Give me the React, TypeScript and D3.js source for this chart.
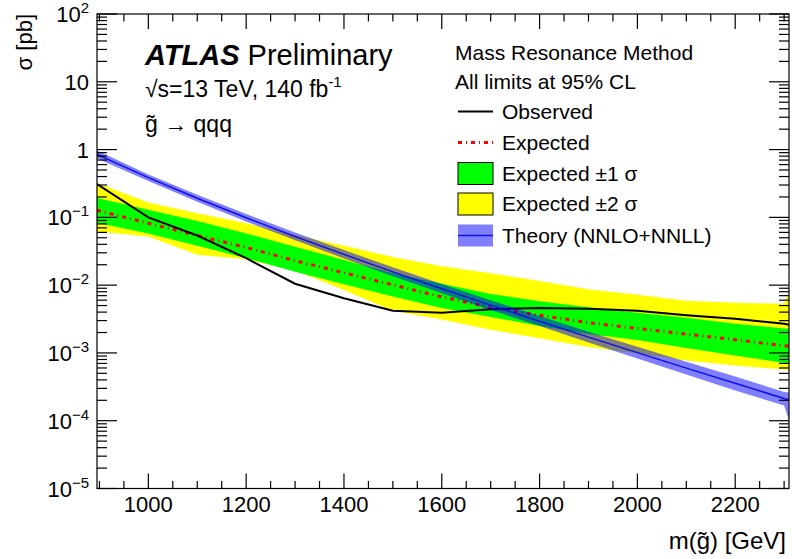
import React, { useEffect, useRef } from "react";
import * as d3 from "d3";

// gluino masses [GeV] where the curves are read
const masses = [895, 1000, 1100, 1200, 1300, 1400, 1500, 1600, 1700, 1800, 1900, 2000, 2100, 2200, 2300, 2310];

// cross-section limits [pb]
const observed = [0.31, 0.1, 0.054, 0.025, 0.0105, 0.0064, 0.0042, 0.0039, 0.0044, 0.0046, 0.0045, 0.0042, 0.0036, 0.0032, 0.0027, 0.0026];
const expected = [0.127, 0.082, 0.054, 0.036, 0.023, 0.0152, 0.0101, 0.0067, 0.0047, 0.0036, 0.0028, 0.0023, 0.0019, 0.00156, 0.00128, 0.00126];
const exp1Up = [0.193, 0.13, 0.088, 0.058, 0.037, 0.0235, 0.015, 0.0105, 0.0074, 0.0058, 0.0047, 0.0039, 0.0033, 0.0027, 0.0023, 0.0023];
const exp1Down = [0.083, 0.058, 0.038, 0.025, 0.0158, 0.0103, 0.0068, 0.0046, 0.0034, 0.0025, 0.0019, 0.00155, 0.00118, 0.00092, 0.00071, 0.0007];
const exp2Up = [0.32, 0.165, 0.115, 0.082, 0.055, 0.038, 0.026, 0.019, 0.015, 0.0115, 0.0087, 0.0072, 0.0059, 0.0055, 0.0053, 0.008];
const exp2Down = [0.062, 0.052, 0.028, 0.024, 0.0165, 0.0085, 0.0042, 0.0031, 0.0022, 0.00165, 0.00122, 0.00098, 0.00077, 0.00065, 0.00057, 0.00055];

// NNLO+NNLL gluino pair cross-section [pb]
const theory = [0.85, 0.385, 0.191, 0.0985, 0.0522, 0.0284, 0.0157, 0.00887, 0.00507, 0.00293, 0.00171, 0.00101, 0.000597, 0.000356, 0.000213, 0.000204];
const theoryUp = [0.97, 0.43, 0.215, 0.112, 0.06, 0.033, 0.0183, 0.0104, 0.006, 0.0035, 0.00206, 0.00123, 0.00074, 0.00045, 0.000265, 0.00026];
const theoryDown = [0.74, 0.345, 0.17, 0.087, 0.046, 0.0248, 0.0135, 0.0076, 0.0043, 0.0025, 0.00143, 0.00083, 0.00048, 0.00028, 0.000168, 0.000102];

const xTicks = [1000, 1200, 1400, 1600, 1800, 2000, 2200];
const yExponents = [2, 1, 0, -1, -2, -3, -4, -5];

const legendEntries = ["Observed", "Expected", "Expected ±1 σ", "Expected ±2 σ", "Theory (NNLO+NNLL)"];

const FONT = "'Liberation Sans', Arial, Helvetica, sans-serif";

export default function App() {
  const svgRef = useRef<SVGSVGElement>(null);

  useEffect(() => {
    const svg = d3.select(svgRef.current);
    svg.selectAll("*").remove();

    const W = 792;
    const H = 559;
    const left = 97, right = 789, top = 14, bottom = 488.5;

    const x = d3.scaleLinear().domain([895, 2310]).range([left, right]);
    const y = d3.scaleLog().domain([1e-5, 1e2]).range([bottom, top]);

    svg.append("rect").attr("width", W).attr("height", H).attr("fill", "white");

    svg
      .append("defs")
      .append("clipPath")
      .attr("id", "plot-clip")
      .append("rect")
      .attr("x", left)
      .attr("y", top)
      .attr("width", right - left)
      .attr("height", bottom - top);

    const plot = svg.append("g").attr("clip-path", "url(#plot-clip)");
    const idx = masses.map((_, i) => i);

    const band = (hi: number[], lo: number[]) =>
      d3
        .area<number>()
        .x((i) => x(masses[i]))
        .y0((i) => y(lo[i]))
        .y1((i) => y(hi[i]))(idx);
    const line = (vals: number[]) =>
      d3
        .line<number>()
        .x((i) => x(masses[i]))
        .y((i) => y(vals[i]))(idx);

    plot.append("path").attr("d", band(exp2Up, exp2Down)).attr("fill", "#ffff00");
    plot.append("path").attr("d", band(exp1Up, exp1Down)).attr("fill", "#00ff00");
    plot
      .append("path")
      .attr("d", line(expected))
      .attr("fill", "none")
      .attr("stroke", "#ff0000")
      .attr("stroke-width", 3)
      .attr("stroke-dasharray", "4 4 1 4");
    plot
      .append("path")
      .attr("d", line(observed))
      .attr("fill", "none")
      .attr("stroke", "black")
      .attr("stroke-width", 2);
    plot
      .append("path")
      .attr("d", band(theoryUp, theoryDown))
      .attr("fill", "#0000ff")
      .attr("fill-opacity", 0.5);
    plot
      .append("path")
      .attr("d", line(theory))
      .attr("fill", "none")
      .attr("stroke", "#1010e0")
      .attr("stroke-width", 1.5);

    // frame
    svg
      .append("rect")
      .attr("x", left)
      .attr("y", top)
      .attr("width", right - left)
      .attr("height", bottom - top)
      .attr("fill", "none")
      .attr("stroke", "black")
      .attr("stroke-width", 1.2);

    // x ticks (major every 200, minor every 50), bottom and top
    const ticks = svg.append("g").attr("stroke", "black").attr("stroke-width", 1.2);
    d3.range(900, 2311, 50).forEach((m) => {
      const len = m % 200 === 0 ? 15 : 7.5;
      ticks.append("line").attr("x1", x(m)).attr("x2", x(m)).attr("y1", bottom).attr("y2", bottom - len);
      ticks.append("line").attr("x1", x(m)).attr("x2", x(m)).attr("y1", top).attr("y2", top + len);
    });

    // y ticks (log), left and right
    yExponents.forEach((e) => {
      for (let k = 1; k <= 9; k++) {
        const v = k * Math.pow(10, e);
        if (v > 100 * 1.0001) continue;
        const len = k === 1 ? 20 : 10;
        const yy = y(v);
        ticks.append("line").attr("x1", left).attr("x2", left + len).attr("y1", yy).attr("y2", yy);
        ticks.append("line").attr("x1", right).attr("x2", right - len).attr("y1", yy).attr("y2", yy);
      }
    });

    // x tick labels
    svg
      .append("g")
      .selectAll("text")
      .data(xTicks)
      .enter()
      .append("text")
      .attr("x", (d) => x(d))
      .attr("y", 512)
      .attr("text-anchor", "middle")
      .style("font-family", FONT)
      .style("font-size", "22px")
      .text((d) => d);

    // y tick labels
    yExponents.forEach((e) => {
      const t = svg
        .append("text")
        .attr("x", 89)
        .attr("y", y(Math.pow(10, e)) + 8)
        .attr("text-anchor", "end")
        .style("font-family", FONT)
        .style("font-size", "22px");
      if (e === 0) t.text("1");
      else if (e === 1) t.text("10");
      else {
        t.append("tspan").text("10");
        t.append("tspan")
          .attr("dy", -9)
          .style("font-size", "15px")
          .text(e < 0 ? "\u2212" + -e : String(e));
      }
    });

    // axis titles
    svg
      .append("text")
      .attr("x", 786)
      .attr("y", 549)
      .attr("text-anchor", "end")
      .style("font-family", FONT)
      .style("font-size", "24px")
      .text("m(g\u0303) [GeV]");

    svg
      .append("text")
      .attr("transform", "translate(32,14) rotate(-90)")
      .attr("text-anchor", "end")
      .style("font-family", FONT)
      .style("font-size", "22px")
      .text("σ [pb]");

    // ATLAS label
    const atlas = svg
      .append("text")
      .attr("x", 145)
      .attr("y", 65)
      .style("font-family", FONT)
      .style("font-size", "29px");
    atlas.append("tspan").style("font-weight", "bold").style("font-style", "italic").text("ATLAS");
    atlas.append("tspan").text(" Preliminary");

    const energy = svg
      .append("text")
      .attr("x", 145)
      .attr("y", 97)
      .style("font-family", FONT)
      .style("font-size", "23px");
    energy.append("tspan").text("√s=13 TeV, 140 fb");
    energy.append("tspan").attr("dy", -10).style("font-size", "15px").text("-1");

    svg
      .append("text")
      .attr("x", 145)
      .attr("y", 132)
      .style("font-family", FONT)
      .style("font-size", "23px")
      .text("g\u0303 → qqq");

    // legend
    const lg = svg.append("g").style("font-family", FONT).style("font-size", "21px");
    lg.append("text").attr("x", 455).attr("y", 60).text("Mass Resonance Method");
    lg.append("text").attr("x", 455).attr("y", 89).text("All limits at 95% CL");

    const rowY = [111.5, 142.5, 173.5, 204, 235.5];
    legendEntries.forEach((label, i) => {
      lg.append("text").attr("x", 502).attr("y", rowY[i] + 7).text(label);
    });
    lg.append("line")
      .attr("x1", 458).attr("x2", 493).attr("y1", rowY[0]).attr("y2", rowY[0])
      .attr("stroke", "black").attr("stroke-width", 2);
    lg.append("line")
      .attr("x1", 458).attr("x2", 493).attr("y1", rowY[1]).attr("y2", rowY[1])
      .attr("stroke", "#ff0000").attr("stroke-width", 3).attr("stroke-dasharray", "4 4 1 4");
    lg.append("rect")
      .attr("x", 458).attr("y", rowY[2] - 11).attr("width", 35).attr("height", 22)
      .attr("fill", "#00ff00").attr("stroke", "black").attr("stroke-width", 1);
    lg.append("rect")
      .attr("x", 458).attr("y", rowY[3] - 11).attr("width", 35).attr("height", 22)
      .attr("fill", "#ffff00").attr("stroke", "black").attr("stroke-width", 1);
    lg.append("rect")
      .attr("x", 458).attr("y", rowY[4] - 11).attr("width", 35).attr("height", 22)
      .attr("fill", "#0000ff").attr("fill-opacity", 0.5);
    lg.append("line")
      .attr("x1", 458).attr("x2", 493).attr("y1", rowY[4]).attr("y2", rowY[4])
      .attr("stroke", "#1010e0").attr("stroke-width", 1.5);
  }, []);

  return (
    <svg
      ref={svgRef}
      width={792}
      height={559}
      style={{ position: "absolute", left: 0, top: 0, display: "block" }}
    ></svg>
  );
}
